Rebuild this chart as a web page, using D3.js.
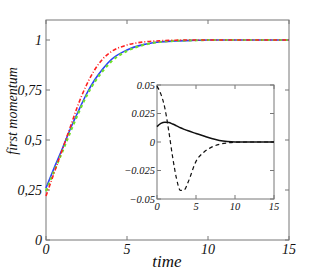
<!DOCTYPE html>
<meta charset="utf-8">
<style>
body { margin: 0; background: #fff; }
text { font-family: "Liberation Serif", "DejaVu Serif", serif; font-style: italic; fill: #111; }
.frame { fill: none; stroke: #777; stroke-width: 1; }
.tick { stroke: #777; stroke-width: 1; }
</style>
<svg width="320" height="272"></svg>
<script src="https://d3js.org/d3.v7.min.js"></script>
<script>
// main plot data
var time = [0, 0.5, 1, 1.5, 2, 2.5, 3, 3.5, 4, 5, 6, 7, 8, 9, 10, 12, 15];
var blue = [0.26, 0.36, 0.455, 0.555, 0.645, 0.73, 0.80, 0.855, 0.90, 0.95, 0.977, 0.99, 0.995, 0.998, 1, 1, 1];
var green = [0.245, 0.345, 0.44, 0.54, 0.635, 0.72, 0.79, 0.845, 0.89, 0.945, 0.975, 0.99, 0.996, 0.998, 1, 1, 1];
var red = [0.22, 0.335, 0.45, 0.565, 0.68, 0.775, 0.85, 0.905, 0.94, 0.975, 0.99, 0.996, 0.999, 1, 1, 1, 1];
var yTicks = [0, 0.25, 0.5, 0.75, 1];
var yTickLabels = ["0", "0,25", "0,5", "0,75", "1"];
var xTicks = [0, 5, 10, 15];

// inset data
var insetTime = [0, 0.5, 1, 1.5, 2, 2.5, 3, 3.5, 4, 5, 6, 7, 8, 9, 10, 12, 15];
var insetSolid = [0.0135, 0.0163, 0.0174, 0.0171, 0.0158, 0.0142, 0.0125, 0.0111, 0.0098, 0.0075, 0.0052, 0.003, 0.0014, 0.0005, 0.0001, 0, 0];
var insetDashed = [0.049, 0.042, 0.03, 0.01, -0.013, -0.032, -0.0425, -0.042, -0.035, -0.017, -0.009, -0.0045, -0.002, -0.0008, -0.0002, 0, 0];
var insetYTicks = [-0.05, -0.025, 0, 0.025, 0.05];
var insetYTickLabels = ["\u22120.05", "\u22120.025", "0", "0.025", "0.05"];

var svg = d3.select("svg");

function panel(g, x, y, xt, yt, ytl, fs, labDx, labDy) {
  var x0 = x.range()[0], x1 = x.range()[1], y0 = y.range()[0], y1 = y.range()[1];
  g.append("rect").attr("class", "frame")
    .attr("x", x0).attr("y", y1).attr("width", x1 - x0).attr("height", y0 - y1);
  xt.forEach(function(v) {
    g.append("line").attr("class", "tick").attr("x1", x(v)).attr("x2", x(v)).attr("y1", y0).attr("y2", y0 - 4);
    g.append("line").attr("class", "tick").attr("x1", x(v)).attr("x2", x(v)).attr("y1", y1).attr("y2", y1 + 4);
    g.append("text").attr("x", x(v)).attr("y", y0 + labDy).attr("text-anchor", "middle")
      .attr("font-size", fs).text(v);
  });
  yt.forEach(function(v, i) {
    g.append("line").attr("class", "tick").attr("x1", x0).attr("x2", x0 + 4).attr("y1", y(v)).attr("y2", y(v));
    g.append("line").attr("class", "tick").attr("x1", x1).attr("x2", x1 - 4).attr("y1", y(v)).attr("y2", y(v));
    g.append("text").attr("x", x0 - labDx).attr("y", y(v)).attr("dy", "0.35em").attr("text-anchor", "end")
      .attr("font-size", fs).text(ytl[i]);
  });
}

// main
var x = d3.scaleLinear().domain([0, 15]).range([46, 289]);
var y = d3.scaleLinear().domain([0, 1.1]).range([240, 20]);
var main = svg.append("g");
panel(main, x, y, xTicks, yTicks, yTickLabels, 14, 4, 14);

var line = d3.line().x(function(d) { return x(d[0]); }).y(function(d) { return y(d[1]); }).curve(d3.curveMonotoneX);
function zipT(t, v) { return t.map(function(tt, i) { return [tt, v[i]]; }); }

main.append("path").attr("d", line(zipT(time, blue)))
  .attr("fill", "none").attr("stroke", "#2b3cff").attr("stroke-width", 1.6);
main.append("path").attr("d", line(zipT(time, green)))
  .attr("fill", "none").attr("stroke", "#6ee02a").attr("stroke-width", 2.2).attr("stroke-dasharray", "3,3");
main.append("path").attr("d", line(zipT(time, red)))
  .attr("fill", "none").attr("stroke", "#ff2020").attr("stroke-width", 1.6).attr("stroke-dasharray", "4,2,1,2");

// inset
var xi = d3.scaleLinear().domain([0, 15]).range([157, 274]);
var yi = d3.scaleLinear().domain([-0.05, 0.05]).range([199, 85]);
var inset = svg.append("g");
inset.append("rect").attr("x", 157).attr("y", 85).attr("width", 117).attr("height", 114).attr("fill", "#fff");
panel(inset, xi, yi, xTicks, insetYTicks, insetYTickLabels, 10.5, 2, 11);
var linei = d3.line().x(function(d) { return xi(d[0]); }).y(function(d) { return yi(d[1]); }).curve(d3.curveMonotoneX);
inset.append("path").attr("d", linei(zipT(insetTime, insetSolid)))
  .attr("fill", "none").attr("stroke", "#111").attr("stroke-width", 1.5);
inset.append("path").attr("d", linei(zipT(insetTime, insetDashed)))
  .attr("fill", "none").attr("stroke", "#111").attr("stroke-width", 1.2).attr("stroke-dasharray", "4,3");

// axis titles
svg.append("text").attr("x", 167).attr("y", 267).attr("text-anchor", "middle").attr("font-size", 17).text("time");
svg.append("text").attr("transform", "translate(17,111) rotate(-90)").attr("text-anchor", "middle")
  .attr("font-size", 14).text("first momentum");
</script>
